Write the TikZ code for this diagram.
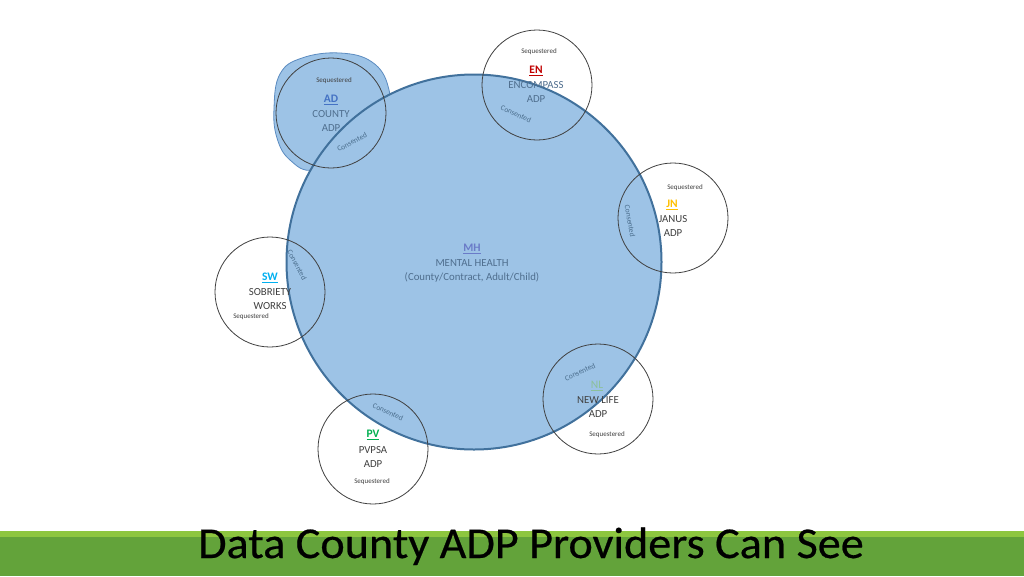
\documentclass[tikz,border=0pt]{standalone}
\usepackage{fontspec}
\setmainfont{Carlito}
\newfontfamily\titlefont[FakeBold=0.5]{Carlito}
\usetikzlibrary{calc}
\definecolor{mhfill}{HTML}{9DC3E6}
\definecolor{mhline}{HTML}{41719C}
\definecolor{blobline}{HTML}{5B8BC0}
\definecolor{ringline}{HTML}{404040}
\definecolor{txtgray}{HTML}{404040}
\definecolor{consc}{HTML}{4A6D8C}
\definecolor{adc}{HTML}{4472C4}
\definecolor{enc}{HTML}{C00000}
\definecolor{jnc}{HTML}{FFC000}
\definecolor{swc}{HTML}{00B0F0}
\definecolor{pvc}{HTML}{00B050}
\definecolor{nlc}{HTML}{8CC09A}
\definecolor{mhc}{HTML}{6A7BC8}
\definecolor{mhtxt}{HTML}{4F6E8E}
\definecolor{barlight}{HTML}{8DC63F}
\definecolor{bardark}{HTML}{63A33A}
\tikzset{
  ring/.style={circle, draw=ringline, line width=0.8pt, minimum size=110pt, inner sep=0pt},
  lbl/.style={font=\fontsize{10.8}{14}\selectfont, text=txtgray, align=center, inner sep=0pt},
  seq/.style={font=\fontsize{7}{8}\selectfont, text=txtgray, inner sep=0pt},
  cons/.style={font=\fontsize{7.5}{8}\selectfont, text=consc, inner sep=0pt},
  abbr/.style={font=\fontsize{11.5}{14}\selectfont\bfseries, inner sep=0pt}
}
\begin{document}
\begin{tikzpicture}[x=1pt,y=-1pt]
\useasboundingbox (0,0) rectangle (1024,576);
\fill[white] (0,0) rectangle (1024,576);
% blob around AD
\filldraw[fill=mhfill, draw=blobline, line width=0.8pt] plot[smooth cycle, tension=0.7] coordinates
 {(274,108) (280,74) (302,58) (340,53) (372,62) (388,86) (385,112) (352,150) (314,170) (290,160) (277,138)};
% main circle
\node[circle, fill=mhfill, draw=mhline, line width=2pt, minimum size=375pt, inner sep=0pt] (mh) at (474,262) {};
% rings
\node[ring] (ad) at (331,113) {};
\node[ring] (en) at (537,85) {};
\node[ring] (jn) at (673,218) {};
\node[ring] (sw) at (270,292) {};
\node[ring] (pv) at (373,449) {};
\node[ring] (nl) at (598,399) {};
% MH text
\node[abbr, text=mhc] (mht) at (472,249) {\underline{MH}};
\node[lbl, text=mhtxt] (mhl) at (472,271) {MENTAL HEALTH\\(County/Contract, Adult/Child)};
% AD
\node[seq] (ads) at (334,81) {Sequestered};
\node[abbr, text=adc] (adt) at (331,100) {\underline{AD}};
\node[lbl, text=mhtxt] (adl) at (331,121) {COUNTY\\ADP};
\node[cons, rotate=28] (adc) at (352,142) {Consented};
% EN
\node[seq] (ens) at (539,52) {Sequestered};
\node[abbr, text=enc] (ent) at (536,71) {\underline{EN}};
\node[lbl, text=mhtxt] (enl) at (536,92) {ENCOMPASS\\ADP};
\node[cons, rotate=-25] (enc) at (516,114) {Consented};
% JN
\node[seq] (jns) at (685,188) {Sequestered};
\node[abbr, text=jnc] (jnt) at (672,205) {\underline{JN}};
\node[lbl] (jnl) at (673,226) {JANUS\\ADP};
\node[cons, rotate=-80] (jnc) at (630,221) {Consented};
% SW
\node[abbr, text=swc] (swt) at (270,278) {\underline{SW}};
\node[lbl] (swl) at (270,299) {SOBRIETY\\WORKS};
\node[seq] (sws) at (251,317) {Sequestered};
\node[cons, rotate=-62] (swc) at (297,265) {Consented};
% PV
\node[cons, rotate=-25] (pvc) at (388,412) {Consented};
\node[abbr, text=pvc] (pvt) at (373,435) {\underline{PV}};
\node[lbl] (pvl) at (373,457) {PVPSA\\ADP};
\node[seq] (pvs) at (372,482) {Sequestered};
% NL
\node[cons, rotate=25] (nlc) at (580,372) {Consented};
\node[abbr, text=nlc, font=\fontsize{11.5}{14}\selectfont] (nlt) at (597,386) {\underline{NL}};
\node[lbl] (nll) at (598,407) {NEW LIFE\\ADP};
\node[seq] (nls) at (607,435) {Sequestered};
% bottom bar
\fill[barlight] (0,531) rectangle (1024,537);
\fill[bardark] (0,537) rectangle (1024,576);
\node[font=\titlefont\fontsize{44}{50}\selectfont, text=black, inner sep=0pt, anchor=base, xscale=1.05] (title) at (531,558) {Data County ADP Providers Can See};
\end{tikzpicture}
\end{document}
